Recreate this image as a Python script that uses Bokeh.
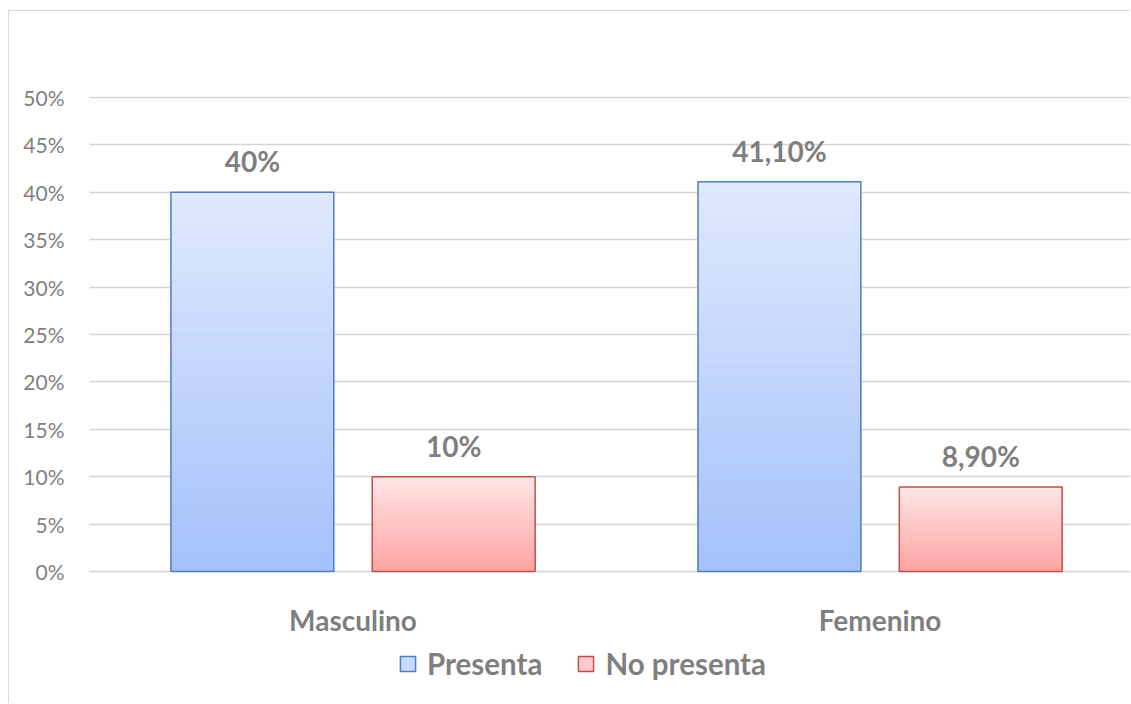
import numpy as np
from bokeh.plotting import figure
from bokeh.models import ColumnDataSource, FixedTicker, Legend, LegendItem
from bokeh.embed import file_html
from bokeh.resources import INLINE
from bokeh.core.properties import value

# ---- data ----
categories = ["Masculino", "Femenino"]
series_names = ["Presenta", "No presenta"]
presenta = [0.40, 0.411]
no_presenta = [0.10, 0.089]
presenta_labels = ["40%", "41,10%"]
no_presenta_labels = ["10%", "8,90%"]
y_ticks = [0.0, 0.05, 0.10, 0.15, 0.20, 0.25, 0.30, 0.35, 0.40, 0.45, 0.50]
y_tick_labels = ["0%", "5%", "10%", "15%", "20%", "25%", "30%", "35%", "40%", "45%", "50%"]

# ---- style ----
GRAY = "#7F7F7F"
FONT = "Lato"
BAR_W = 0.309
OFFSET = 0.191
styles = {
    "Presenta": dict(top="#DFE9FC", bottom="#A3C1FC", line="#4F7FC0"),
    "No presenta": dict(top="#FFE5E5", bottom="#FFA2A2", line="#C0504D"),
}

p = figure(width=1122, height=693, output_backend="svg", toolbar_location=None,
           x_range=(0, 1.977), y_range=(-0.1403, 0.501),
           min_border_left=80, min_border_right=0, min_border_top=85, min_border_bottom=0)
p.styles = {"margin-left": "8px", "margin-top": "10px",
            "border-left": "1px solid #D9D9D9", "border-top": "1px solid #D9D9D9"}
p.outline_line_color = None
p.background_fill_color = "white"
p.border_fill_color = "white"
p.xaxis.visible = False

# y axis
p.yaxis.ticker = FixedTicker(ticks=y_ticks)
p.yaxis.major_label_overrides = {t: l for t, l in zip(y_ticks, y_tick_labels)}
p.yaxis.axis_line_color = None
p.yaxis.major_tick_line_color = None
p.yaxis.minor_tick_line_color = None
p.yaxis.major_label_standoff = 19
p.yaxis.major_label_text_font = FONT
p.yaxis.major_label_text_font_size = "21px"
p.yaxis.major_label_text_color = GRAY

p.xgrid.grid_line_color = None
p.ygrid.ticker = FixedTicker(ticks=y_ticks)
p.ygrid.grid_line_color = "#D4D4D4"
p.ygrid.grid_line_width = 1.5

xc = [i + 0.5 for i in range(len(categories))]
# category labels (x axis)
p.text(x=xc, y=[0] * len(xc), text=categories, text_align="center", text_baseline="middle",
       y_offset=49, text_font=value(FONT), text_font_style="bold",
       text_font_size="28px", text_color=GRAY)

def hex2rgb(h):
    h = h.lstrip("#")
    return np.array([int(h[i:i + 2], 16) for i in (0, 2, 4)], dtype=float)

def rgb2hex(c):
    return "#%02X%02X%02X" % tuple(int(round(v)) for v in c)

N = 60
legend_items = []
for name, vals, labels, off in [("Presenta", presenta, presenta_labels, -OFFSET),
                                ("No presenta", no_presenta, no_presenta_labels, OFFSET)]:
    st = styles[name]
    cb, ct = hex2rgb(st["bottom"]), hex2rgb(st["top"])
    xs, bots, tops, cols = [], [], [], []
    for x0, v in zip(xc, vals):
        for i in range(N):
            t = (i + 0.5) / N
            xs.append(x0 + off)
            bots.append(v * i / N)
            tops.append(v * (i + 1) / N)
            cols.append(rgb2hex(cb + (ct - cb) * t))
    src = ColumnDataSource(dict(x=xs, bottom=bots, top=tops, color=cols))
    p.vbar(x="x", bottom="bottom", top="top", width=BAR_W, source=src,
           fill_color="color", line_color="color", line_width=1)
    bx = [x0 + off for x0 in xc]
    p.vbar(x=bx, top=vals, width=BAR_W, fill_alpha=0, line_color=st["line"], line_width=1.5)
    p.text(x=bx, y=vals, text=labels, text_align="center", text_baseline="middle",
           y_offset=-31, text_font=value(FONT), text_font_style="bold",
           text_font_size="28px", text_color=GRAY)
    mid = rgb2hex(cb + (ct - cb) * 0.6)
    # legend swatch renderer (NaN data: nothing drawn in the plot)
    dummy = p.vbar(x=np.array([np.nan]), top=np.array([np.nan]), width=BAR_W,
                   fill_color=mid, line_color=st["line"], line_width=1.5)
    legend_items.append(LegendItem(label=name, renderers=[dummy]))

legend = Legend(items=legend_items, orientation="horizontal", location=(309, 23),
                glyph_width=19, glyph_height=19, label_standoff=10, spacing=34,
                label_text_font=FONT, label_text_font_style="bold",
                label_text_font_size="29.5px", label_text_color=GRAY,
                label_height=29, padding=0, margin=0,
                border_line_color=None, background_fill_alpha=0)
p.add_layout(legend, "center")

open("out.html", "w").write(file_html(p, INLINE))
